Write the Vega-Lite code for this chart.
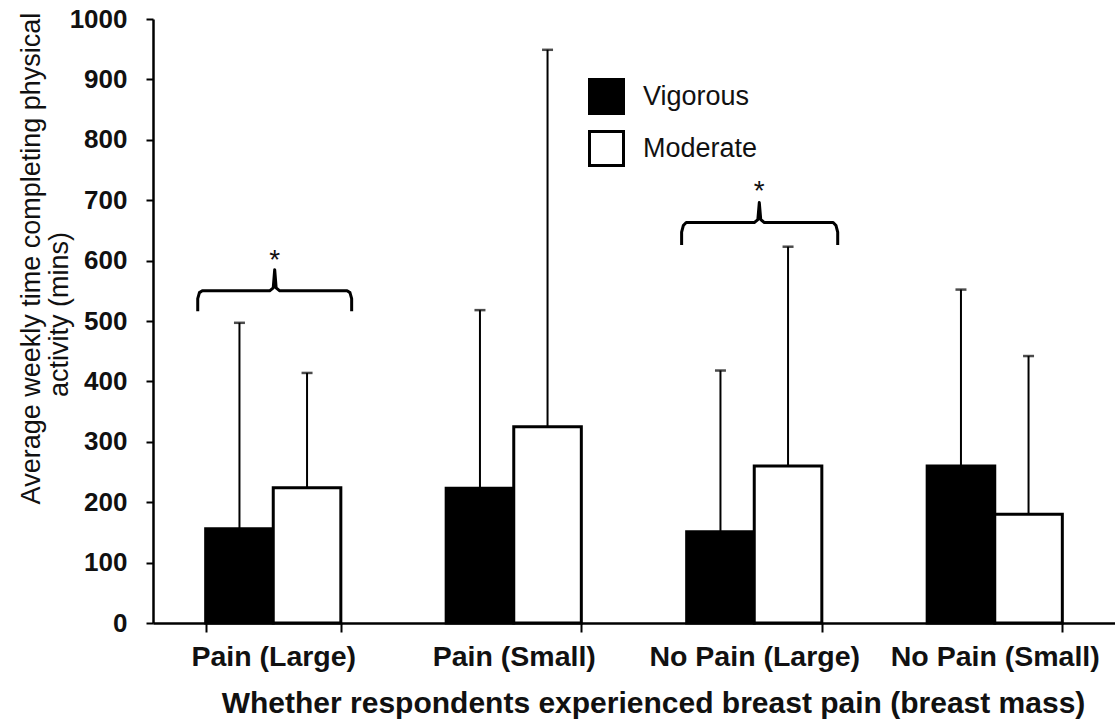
{
  "$schema": "https://vega.github.io/schema/vega-lite/v6.json",
  "autosize": {"type": "none"},
  "padding": {"left": 153, "top": 19, "right": 0, "bottom": 99},
  "width": 962,
  "height": 604,
  "background": "white",
  "config": {
    "view": {"stroke": null},
    "font": "Liberation Sans",
    "axis": {"zindex": 1}
  },
  "datasets": {
    "bars": [
      {"group": "Pain (Large)", "type": "Vigorous", "value": 156, "upper": 497},
      {"group": "Pain (Large)", "type": "Moderate", "value": 224, "upper": 414},
      {"group": "Pain (Small)", "type": "Vigorous", "value": 223, "upper": 518},
      {"group": "Pain (Small)", "type": "Moderate", "value": 325, "upper": 949},
      {"group": "No Pain (Large)", "type": "Vigorous", "value": 151, "upper": 418},
      {"group": "No Pain (Large)", "type": "Moderate", "value": 260, "upper": 623},
      {"group": "No Pain (Small)", "type": "Vigorous", "value": 260, "upper": 552},
      {"group": "No Pain (Small)", "type": "Moderate", "value": 180, "upper": 442}
    ],
    "brackets": [
      {"id": 1, "k": 1, "px": 0.186, "py": 516},
      {"id": 1, "k": 2, "px": 0.186, "py": 537},
      {"id": 1, "k": 3, "px": 0.193, "py": 547},
      {"id": 1, "k": 4, "px": 0.205, "py": 550},
      {"id": 1, "k": 5, "px": 0.485, "py": 550},
      {"id": 1, "k": 6, "px": 0.500, "py": 555},
      {"id": 1, "k": 7, "px": 0.506, "py": 585},
      {"id": 1, "k": 8, "px": 0.512, "py": 555},
      {"id": 1, "k": 9, "px": 0.527, "py": 550},
      {"id": 1, "k": 10, "px": 0.807, "py": 550},
      {"id": 1, "k": 11, "px": 0.819, "py": 547},
      {"id": 1, "k": 12, "px": 0.826, "py": 537},
      {"id": 1, "k": 13, "px": 0.826, "py": 516},
      {"id": 2, "k": 1, "px": 2.198, "py": 626},
      {"id": 2, "k": 2, "px": 2.198, "py": 647},
      {"id": 2, "k": 3, "px": 2.205, "py": 658},
      {"id": 2, "k": 4, "px": 2.217, "py": 663},
      {"id": 2, "k": 5, "px": 2.500, "py": 663},
      {"id": 2, "k": 6, "px": 2.515, "py": 668},
      {"id": 2, "k": 7, "px": 2.521, "py": 696},
      {"id": 2, "k": 8, "px": 2.527, "py": 668},
      {"id": 2, "k": 9, "px": 2.542, "py": 663},
      {"id": 2, "k": 10, "px": 2.828, "py": 663},
      {"id": 2, "k": 11, "px": 2.840, "py": 658},
      {"id": 2, "k": 12, "px": 2.847, "py": 647},
      {"id": 2, "k": 13, "px": 2.847, "py": 626}
    ],
    "stars": [
      {"px": 0.506, "py": 586, "label": "*"},
      {"px": 2.521, "py": 700, "label": "*"}
    ]
  },
  "layer": [
    {
      "data": {"name": "bars"},
      "encoding": {
        "x": {
          "field": "group", "type": "nominal",
          "sort": ["Pain (Large)", "Pain (Small)", "No Pain (Large)", "No Pain (Small)"],
          "scale": {"paddingInner": 0.438, "paddingOuter": 0.219},
          "axis": {
            "title": "Whether respondents experienced breast pain (breast mass)",
            "labelAngle": 0, "labelLimit": 0,
            "labelFont": "Liberation Sans", "labelFontWeight": "bold", "labelFontSize": 28.5, "labelColor": "#111",
            "labelPadding": 10,
            "tickBand": "extent", "tickSize": 9, "tickColor": "black", "tickWidth": 2,
            "domainColor": "black", "domainWidth": 2.5,
            "titleFont": "Liberation Sans", "titleFontWeight": "bold", "titleFontSize": 30, "titleColor": "#111",
            "titleX": 500, "titleY": 65, "titleAlign": "center", "titleBaseline": "top", "titleLimit": 0
          }
        },
        "xOffset": {"field": "type", "type": "nominal", "scale": {"domain": ["Vigorous", "Moderate"], "paddingInner": 0, "paddingOuter": 0}}
      },
      "layer": [
        {
          "mark": {"type": "bar", "stroke": "black", "strokeWidth": 3, "strokeJoin": "miter"},
          "encoding": {
            "y": {
              "field": "value", "type": "quantitative",
              "scale": {"domain": [0, 1000], "nice": false},
              "axis": {
                "title": "Average weekly time completing physical",
                "values": [0, 100, 200, 300, 400, 500, 600, 700, 800, 900, 1000],
                "format": "d",
                "grid": false,
                "labelFont": "Liberation Sans", "labelFontWeight": "bold", "labelFontSize": 26, "labelColor": "#111",
                "labelPadding": 19,
                "tickSize": 7, "tickColor": "black", "tickWidth": 2,
                "domainColor": "black", "domainWidth": 2.5,
                "titleFont": "Liberation Sans", "titleFontWeight": "normal", "titleFontSize": 27, "titleColor": "#111",
                "titleX": -135, "titleY": 239, "titleAlign": "center", "titleBaseline": "top", "titleAngle": -90, "titleLimit": 0
              }
            },
            "fill": {
              "field": "type", "type": "nominal",
              "scale": {"domain": ["Vigorous", "Moderate"], "range": ["#000000", "#ffffff"]},
              "legend": {
                "title": null, "orient": "none", "legendX": 435, "legendY": 59, "padding": 0,
                "symbolType": "square", "symbolSize": 1156, "symbolStrokeColor": "black", "symbolStrokeWidth": 3,
                "labelFont": "Liberation Sans", "labelFontSize": 27, "labelColor": "#111", "labelOffset": 18,
                "rowPadding": 5
              }
            }
          }
        },
        {
          "mark": {"type": "rule", "stroke": "black", "strokeWidth": 2},
          "encoding": {
            "y": {"field": "value", "type": "quantitative"},
            "y2": {"field": "upper"}
          }
        },
        {
          "mark": {"type": "tick", "orient": "horizontal", "color": "black", "size": 11, "thickness": 2.5},
          "encoding": {
            "y": {"field": "upper", "type": "quantitative"}
          }
        }
      ]
    },
    {
      "layer": [
        {
          "data": {"name": "brackets"},
          "mark": {"type": "line", "stroke": "black", "strokeWidth": 3, "strokeJoin": "round"},
          "encoding": {
            "x": {"field": "px", "type": "quantitative", "scale": {"domain": [0, 4], "nice": false, "zero": false}, "axis": null},
            "y": {
              "field": "py", "type": "quantitative",
              "scale": {"domain": [0, 1000], "nice": false, "zero": false},
              "axis": {
                "orient": "right",
                "title": "activity (mins)",
                "labels": false, "ticks": false, "domain": false, "grid": false,
                "titleFont": "Liberation Sans", "titleFontWeight": "normal", "titleFontSize": 27, "titleColor": "#111",
                "titleX": -1069, "titleY": 295, "titleAlign": "center", "titleBaseline": "top", "titleAngle": -90, "titleLimit": 0
              }
            },
            "detail": {"field": "id", "type": "nominal"},
            "order": {"field": "k", "type": "quantitative"}
          }
        },
        {
          "data": {"name": "stars"},
          "mark": {"type": "text", "font": "Liberation Sans", "fontSize": 28, "baseline": "alphabetic", "align": "center", "color": "#111"},
          "encoding": {
            "x": {"field": "px", "type": "quantitative", "scale": {"domain": [0, 4], "nice": false, "zero": false}, "axis": null},
            "y": {"field": "py", "type": "quantitative"},
            "text": {"field": "label"}
          }
        }
      ]
    }
  ],
  "resolve": {"scale": {"x": "independent", "y": "independent"}}
}
